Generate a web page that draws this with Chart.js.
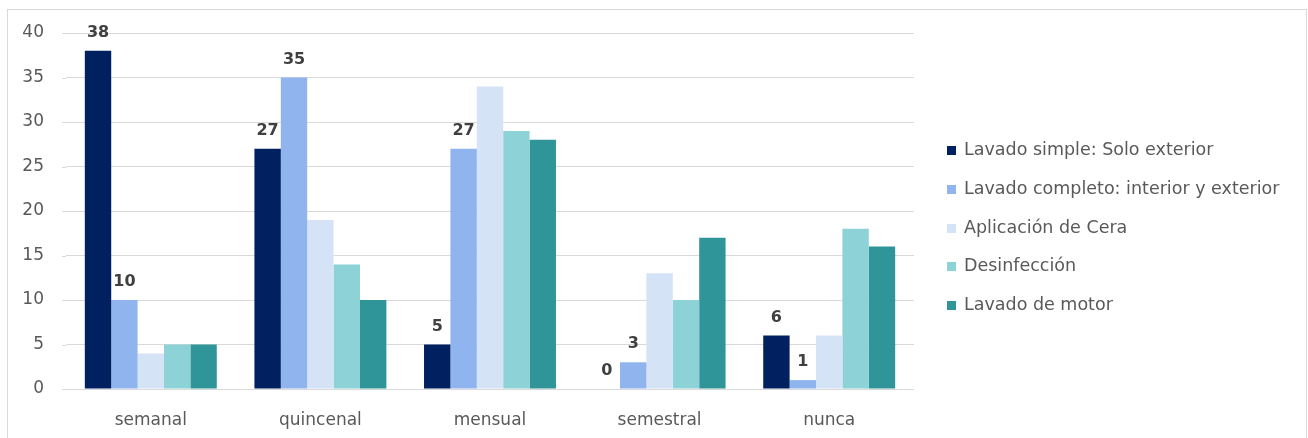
<!DOCTYPE html>
<html>
<head>
<meta charset="utf-8">
<script src="https://cdn.jsdelivr.net/npm/chart.js@4.4.1/dist/chart.umd.min.js"></script>
<style>
  html, body { margin: 0; padding: 0; background: #ffffff; }
  #wrap { position: relative; width: 1308px; height: 438px; overflow: hidden; }
  #frame { position: absolute; left: 7px; top: 9px; width: 1300px; height: 440px;
           border: 1px solid #d9d9d9; box-sizing: border-box; }
  #chart { position: absolute; left: 0; top: 0; }
</style>
</head>
<body>
<div id="wrap">
  <div id="frame"></div>
  <canvas id="chart" width="1308" height="438"></canvas>
</div>
<script>
// Frecuencia de cada servicio de lavado
const categories = ['semanal', 'quincenal', 'mensual', 'semestral', 'nunca'];
const seriesNames = [
  'Lavado simple: Solo exterior',
  'Lavado completo: interior y exterior',
  'Aplicación de Cera',
  'Desinfección',
  'Lavado de motor'
];
const lavadoSimple   = [38, 27, 5, 0, 6];
const lavadoCompleto = [10, 35, 27, 3, 1];
const aplicacionCera = [4, 19, 34, 13, 6];
const desinfeccion   = [5, 14, 29, 10, 18];
const lavadoMotor    = [5, 10, 28, 17, 16];
const yTicks = [0, 5, 10, 15, 20, 25, 30, 35, 40];

const colors = ['#002060', '#8FB4EE', '#D5E3F7', '#8CD2D6', '#2F9598'];
const seriesValues = [lavadoSimple, lavadoCompleto, aplicacionCera, desinfeccion, lavadoMotor];
// only the first two series carry value labels
const labelledSeries = [0, 1];

const FONT = '"DejaVu Sans", sans-serif';
const TEXT = '#595959';

// value labels above the bars of the labelled series
const valueLabels = {
  id: 'valueLabels',
  afterDatasetsDraw(chart) {
    const ctx = chart.ctx;
    ctx.save();
    ctx.font = 'bold 16px ' + FONT;
    ctx.fillStyle = '#404040';
    ctx.textAlign = 'center';
    ctx.textBaseline = 'alphabetic';
    labelledSeries.forEach(di => {
      const meta = chart.getDatasetMeta(di);
      meta.data.forEach((bar, i) => {
        ctx.fillText(String(chart.data.datasets[di].data[i]), bar.x, bar.y - 14);
      });
    });
    ctx.restore();
  }
};

// legend column to the right of the plot, one row per dataset
const sideLegend = {
  id: 'sideLegend',
  afterDraw(chart) {
    const ctx = chart.ctx;
    const sets = chart.data.datasets;
    const x = chart.chartArea.right + 33;
    const rowGap = 38.8;
    const midY = 228;
    ctx.save();
    ctx.font = '17.5px ' + FONT;
    ctx.textAlign = 'left';
    ctx.textBaseline = 'middle';
    sets.forEach((ds, i) => {
      const y = midY + (i - (sets.length - 1) / 2) * rowGap;
      ctx.fillStyle = ds.backgroundColor;
      ctx.fillRect(x, Math.round(y - 4.5), 9, 9);
      ctx.fillStyle = TEXT;
      ctx.fillText(ds.label, x + 17, y);
    });
    ctx.restore();
  }
};

// horizontal gridlines reach a little past the left edge of the plot
const gridLead = {
  id: 'gridLead',
  beforeDatasetsDraw(chart) {
    const ctx = chart.ctx;
    const y = chart.scales.y;
    const left = chart.chartArea.left;
    ctx.save();
    ctx.strokeStyle = '#d9d9d9';
    ctx.lineWidth = 1;
    y.ticks.forEach(t => {
      const py = Math.round(y.getPixelForValue(t.value)) + 0.5;
      ctx.beginPath();
      ctx.moveTo(left - 4, py);
      ctx.lineTo(left, py);
      ctx.stroke();
    });
    ctx.restore();
  }
};

new Chart(document.getElementById('chart'), {
  type: 'bar',
  data: {
    labels: categories,
    datasets: seriesNames.map((name, k) => ({
      label: name,
      data: seriesValues[k],
      backgroundColor: colors[k],
      borderWidth: 0,
      barPercentage: 1.0,
      categoryPercentage: 0.778
    }))
  },
  options: {
    responsive: false,
    animation: false,
    layout: { padding: { left: 0, right: 394, top: 33, bottom: 0 } },
    plugins: {
      tooltip: { enabled: false },
      legend: { display: false }
    },
    scales: {
      x: {
        afterFit(scale) { scale.height = 49; },
        grid: { display: false, drawTicks: false },
        border: { display: false },
        ticks: { font: { family: FONT, size: 17 }, color: TEXT, padding: 21 }
      },
      y: {
        min: 0,
        max: 40,
        afterBuildTicks(scale) { scale.ticks = yTicks.map(v => ({ value: v })); },
        afterFit(scale) { scale.width = 66; },
        grid: { color: '#d9d9d9', drawTicks: false },
        border: { display: false },
        ticks: { font: { family: FONT, size: 17 }, color: TEXT, padding: 22 }
      }
    }
  },
  plugins: [gridLead, valueLabels, sideLegend]
});
</script>
</body>
</html>
